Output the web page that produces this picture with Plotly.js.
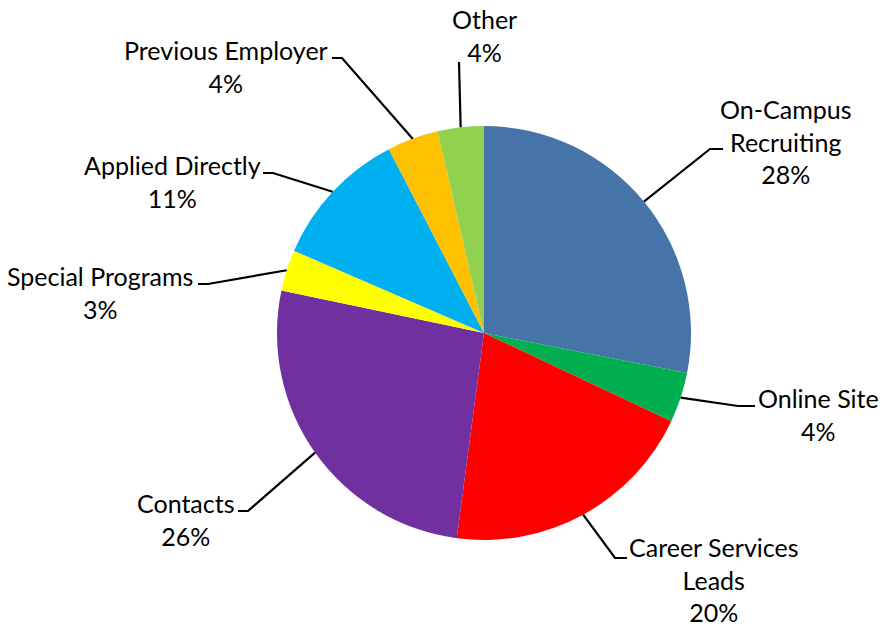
<!DOCTYPE html>
<html>
<head>
<meta charset="utf-8">
<script src="https://cdn.plot.ly/plotly-3.0.1.min.js"></script>
<style>html,body{margin:0;padding:0;background:#fff;}#chart{width:880px;height:629px;}</style>
</head>
<body>
<div id="chart"></div>
<script>
// ---- data ----
const categories = ["On-Campus Recruiting", "Online Site", "Career Services Leads", "Contacts",
                    "Special Programs", "Applied Directly", "Previous Employer", "Other"];
const displayLabels = ["On-Campus<br>Recruiting", "Online Site", "Career Services<br>Leads", "Contacts",
                       "Special Programs", "Applied Directly", "Previous Employer", "Other"];
const values = [28.1, 3.9, 20.1, 26.2, 3.2, 10.9, 4.0, 3.6];
const colors = ["#4674A8", "#00B050", "#FF0000", "#7030A0", "#FFFF00", "#00B0F0", "#FFC000", "#92D050"];

// ---- layout constants (pixels) ----
const W = 880, H = 629;
const cx = 484, cy = 333, R = 207;
// label text centre and leader elbow (elbow point, then short horizontal end)
const labelLayout = [
  {tx: 785, ty: 141, ex: 710, ey: 149, hx: 723},
  {tx: 818, ty: 415, ex: 738, ey: 406, hx: 755},
  {tx: 714, ty: 579, ex: 615, ey: 558, hx: 627},
  {tx: 186, ty: 519, ex: 248, ey: 511, hx: 238},
  {tx: 100, ty: 292, ex: 208, ey: 284, hx: 198},
  {tx: 172, ty: 181, ex: 273, ey: 173, hx: 263},
  {tx: 226, ty: 66,  ex: 342, ey: 58,  hx: 332},
  {tx: 484, ty: 35,  ex: 459, ey: 62,  hx: 459}
];

const px = x => x / W;
const py = y => 1 - y / H;

const total = values.reduce((a, b) => a + b, 0);
const annotations = [];
const shapes = [];
let cum = 0;
values.forEach((v, i) => {
  const mid = (cum + v / 2) / total * 2 * Math.PI;
  cum += v;
  const sx = cx + R * Math.sin(mid);
  const sy = cy - R * Math.cos(mid);
  const L = labelLayout[i];
  const pct = Math.round(v / total * 100) + "%";
  annotations.push({
    xref: "paper", yref: "paper", x: px(L.tx), y: py(L.ty),
    xanchor: "center", yanchor: "middle", showarrow: false,
    text: displayLabels[i] + "<br>" + pct, align: "center",
    font: {family: "Lato, 'Open Sans', sans-serif", size: 25, color: "#000"}
  });
  shapes.push({
    type: "path", xref: "paper", yref: "paper",
    path: `M ${px(sx)} ${py(sy)} L ${px(L.ex)} ${py(L.ey)} L ${px(L.hx)} ${py(L.ey)}`,
    line: {color: "#000", width: 2.2}
  });
});

const trace = {
  type: "pie",
  labels: categories,
  values: values,
  sort: false,
  direction: "clockwise",
  rotation: 0,
  marker: {colors: colors, line: {color: "#ffffff", width: 0}},
  textinfo: "none",
  hoverinfo: "none",
  showlegend: false,
  domain: {x: [px(cx - R), px(cx + R)], y: [py(cy + R), py(cy - R)]}
};

Plotly.newPlot("chart", [trace], {
  width: W, height: H,
  margin: {l: 0, r: 0, t: 0, b: 0},
  paper_bgcolor: "#fff",
  showlegend: false,
  annotations: annotations,
  shapes: shapes
}, {staticPlot: true});
</script>
</body>
</html>
